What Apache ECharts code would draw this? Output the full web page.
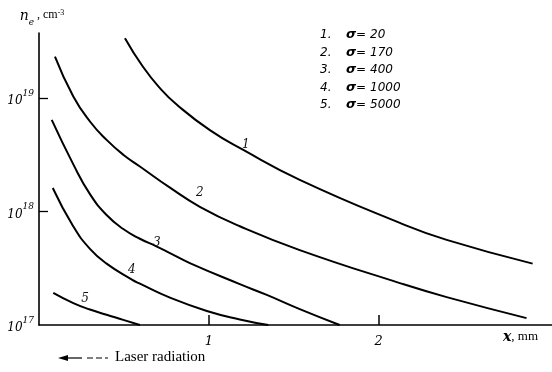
<!DOCTYPE html>
<html>
<head>
<meta charset="utf-8">
<script src="https://cdn.jsdelivr.net/npm/echarts@6/dist/echarts.min.js"></script>
<style>
html, body {margin: 0; padding: 0; background: #fff;}
#echarts-density {width: 552px; height: 372px;}
</style>
</head>
<body>
<div id="echarts-density"></div>
<script>
// Get dom in html
let density_chart_dom = document.getElementById("echarts-density");
let density_chart = echarts.init(density_chart_dom);
//----------------------Data----------------------
let curve_names = ['1', '2', '3', '4', '5'];
let curve_sigma = [20, 170, 400, 1000, 5000];
// x in mm, n_e in cm^-3
let curve1_x = [0.506, 0.612, 0.712, 0.812, 1.006, 1.2, 1.535, 2.124, 2.4, 2.906];
let curve1_y = [3.36e19, 1.88e19, 1.22e19, 8.7e18, 5.2e18, 3.5e18, 1.9e18, 7.94e17, 5.62e17, 3.47e17];
let curve2_x = [0.094, 0.202, 0.3, 0.398, 0.496, 0.594, 0.771, 0.947, 1.182, 1.535, 2.124, 2.4, 2.87];
let curve2_y = [2.31e19, 1.03e19, 6.2e18, 4.27e18, 3.16e18, 2.49e18, 1.62e18, 1.1e18, 7.41e17, 4.57e17, 2.34e17, 1.76e17, 1.15e17];
let curve3_x = [0.075, 0.202, 0.3, 0.398, 0.496, 0.594, 0.688, 0.771, 0.888, 1.182, 1.341, 1.535, 1.77];
let curve3_y = [6.4e18, 2.6e18, 1.42e18, 9.3e17, 7.0e17, 5.75e17, 4.95e17, 4.3e17, 3.51e17, 2.29e17, 1.84e17, 1.38e17, 1.0e17];
let curve4_x = [0.081, 0.202, 0.3, 0.398, 0.547, 0.594, 0.771, 0.988, 1.182, 1.35];
let curve4_y = [1.61e18, 7.38e17, 4.68e17, 3.47e17, 2.51e17, 2.31e17, 1.74e17, 1.33e17, 1.12e17, 1.0e17];
let curve5_x = [0.084, 0.202, 0.3, 0.398, 0.496, 0.594];
let curve5_y = [1.92e17, 1.56e17, 1.37e17, 1.23e17, 1.11e17, 1.0e17];
let y_tick_values = [1e17, 1e18, 1e19];
let x_tick_values = [1, 2];
//--------------------Location--------------------
let curves_x = [curve1_x, curve2_x, curve3_x, curve4_x, curve5_x];
let curves_y = [curve1_y, curve2_y, curve3_y, curve4_y, curve5_y];
// which point carries the curve number, and how far the number sits from it
let label_index = [5, 7, 6, 4, 2];
let label_offset = [[3, 1], [0, -8], [1, 3], [0, -4], [-5, -5]];
let serif = "'DejaVu Serif', serif";
//---------------------Series---------------------
let density_chart_list = [];
for (let k = 0; k < curve_names.length; k++) {
    let data = [];
    for (let i = 0; i < curves_x[k].length; i++) {
        let item = {value: [curves_x[k][i], curves_y[k][i]]};
        if (i === label_index[k]) {
            item.label = {
                show: true,
                position: 'top',
                distance: 0,
                offset: label_offset[k],
                formatter: curve_names[k],
                fontFamily: serif,
                fontStyle: 'italic',
                fontSize: 12,
                color: '#111'
            };
        }
        data.push(item);
    }
    density_chart_list.push({
        name: curve_names[k],
        type: 'line',
        smooth: 0.5,
        symbol: 'circle',
        symbolSize: 0,
        showSymbol: true,
        lineStyle: {color: '#000', width: 2},
        itemStyle: {color: '#000'},
        label: {show: false},
        emphasis: {disabled: true},
        animation: false,
        data: data
    });
}
//----------------------Axis----------------------
let density_chart_xAxis = {
    type: 'value',
    min: 0,
    max: 3.02,
    axisLine: {lineStyle: {color: '#000', width: 1.6}},
    axisTick: {inside: true, length: 10, customValues: x_tick_values, lineStyle: {color: '#000', width: 1.5}},
    axisLabel: {
        customValues: x_tick_values,
        margin: 10,
        color: '#000',
        fontFamily: serif,
        fontStyle: 'italic',
        fontSize: 13
    },
    splitLine: {show: false}
};
let density_chart_yAxis = {
    type: 'log',
    logBase: 10,
    min: 1e17,
    max: 3.73e19,
    name: '{n|n}{e|e}{c| , cm}{s|-3}',
    nameLocation: 'end',
    nameGap: 6,
    nameTextStyle: {
        align: 'center',
        padding: [0, 0, 0, 6],
        rich: {
            n: {fontFamily: serif, fontStyle: 'italic', fontSize: 14, color: '#000', lineHeight: 18, verticalAlign: 'top'},
            e: {fontFamily: serif, fontStyle: 'italic', fontSize: 9, color: '#000', lineHeight: 10, verticalAlign: 'bottom'},
            c: {fontFamily: "'Liberation Serif', serif", fontSize: 12, color: '#000', lineHeight: 16, verticalAlign: 'top'},
            s: {fontFamily: "'Liberation Serif', serif", fontSize: 8, color: '#000', lineHeight: 10, verticalAlign: 'top'}
        }
    },
    axisLine: {lineStyle: {color: '#000', width: 1.6}},
    axisTick: {inside: true, length: 9, customValues: [1e18, 1e19], lineStyle: {color: '#000', width: 1.3}},
    axisLabel: {
        customValues: y_tick_values,
        margin: 5,
        formatter: function (v) {
            return '{a|10}{b|' + Math.round(Math.log10(v)) + '}';
        },
        rich: {
            a: {fontFamily: serif, fontStyle: 'italic', fontSize: 12, color: '#000', lineHeight: 18, verticalAlign: 'bottom'},
            b: {fontFamily: serif, fontStyle: 'italic', fontSize: 9, color: '#000', lineHeight: 10, verticalAlign: 'top'}
        }
    },
    splitLine: {show: false}
};
//----------------------Legend----------------------
let density_chart_legend = {
    orient: 'vertical',
    left: 310,
    top: 23,
    icon: 'none',
    itemWidth: 0,
    itemHeight: 14,
    itemGap: 4,
    selectedMode: false,
    data: curve_names,
    formatter: function (name) {
        let i = curve_names.indexOf(name);
        return '{n|' + name + '.}{s|σ}{v|= ' + curve_sigma[i] + '}';
    },
    textStyle: {
        rich: {
            n: {fontFamily: "'DejaVu Sans', sans-serif", fontStyle: 'italic', fontSize: 12, color: '#000', width: 26, lineHeight: 14},
            s: {fontFamily: "'DejaVu Sans', sans-serif", fontStyle: 'italic', fontWeight: 'bold', fontSize: 13, color: '#000', lineHeight: 14},
            v: {fontFamily: "'DejaVu Sans', sans-serif", fontStyle: 'italic', fontSize: 12, color: '#000', lineHeight: 14}
        }
    }
};
//----------------------Extra text----------------------
let density_chart_graphic = [
    {
        type: 'text',
        left: 503,
        top: 330,
        style: {
            text: '{x|x}{u|, mm}',
            rich: {
                x: {fontFamily: serif, fontStyle: 'italic', fontWeight: 'bold', fontSize: 14, fill: '#000'},
                u: {fontFamily: "'Liberation Serif', serif", fontSize: 13, fill: '#000'}
            }
        }
    },
    {
        type: 'polygon',
        shape: {points: [[58, 358], [68, 355], [68, 361]]},
        style: {fill: '#000'}
    },
    {
        type: 'line',
        shape: {x1: 66, y1: 358, x2: 82, y2: 358},
        style: {stroke: '#000', lineWidth: 1.2}
    },
    {
        type: 'line',
        shape: {x1: 87, y1: 358, x2: 108, y2: 358},
        style: {stroke: '#000', lineWidth: 1.2, lineDash: [6, 3]}
    },
    {
        type: 'text',
        left: 115,
        top: 350,
        style: {
            text: 'Laser radiation',
            fontFamily: "'Liberation Serif', serif",
            fontSize: 15,
            fill: '#000'
        }
    }
];
//------------------Generate Graph------------------
let density_chart_option = {
    backgroundColor: '#fff',
    animation: false,
    grid: {left: 39, right: 0, top: 33, bottom: 47},
    xAxis: density_chart_xAxis,
    yAxis: density_chart_yAxis,
    legend: density_chart_legend,
    graphic: density_chart_graphic,
    series: density_chart_list
};
density_chart.setOption(density_chart_option, true);
</script>
</body>
</html>
